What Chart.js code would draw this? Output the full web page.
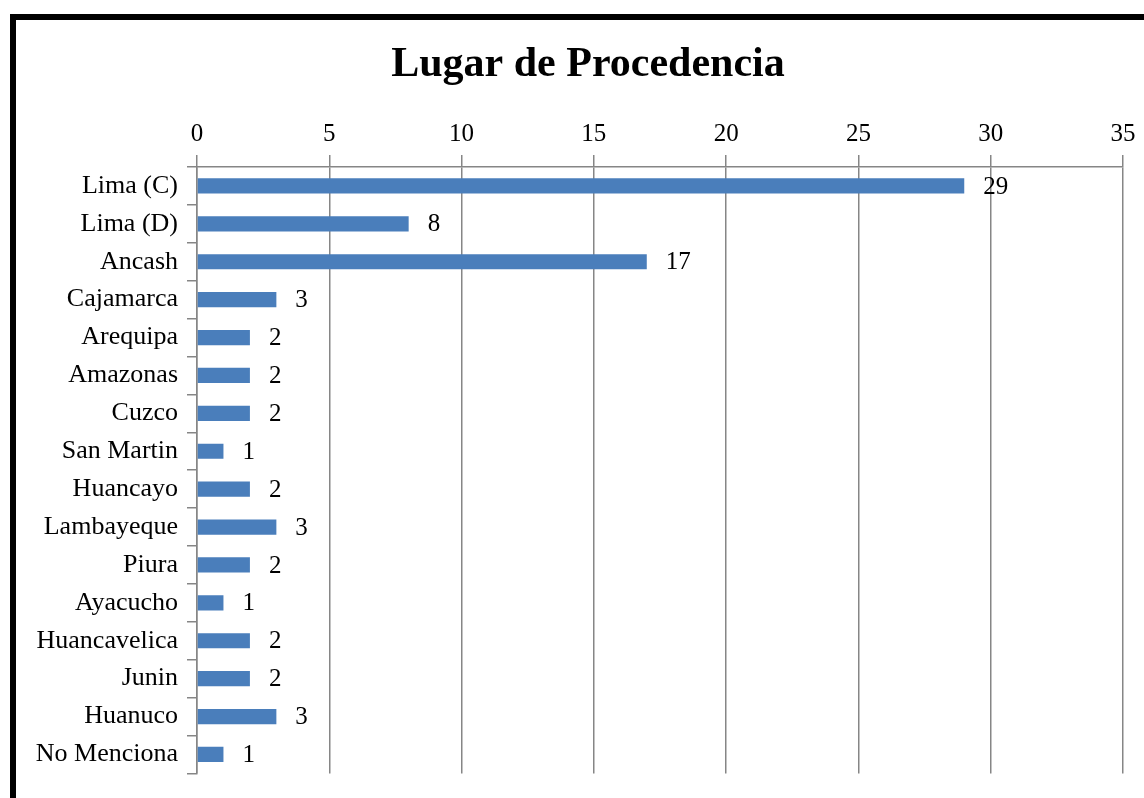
<!DOCTYPE html>
<html>
<head>
<meta charset="utf-8">
<script src="https://cdn.jsdelivr.net/npm/chart.js@4"></script>
<style>
  html, body { margin: 0; padding: 0; background: #fff; overflow: hidden; }
  #frame { position: absolute; left: 10px; top: 14px; width: 1300px; height: 900px;
           border-left: 6px solid #000; border-top: 6px solid #000; }
  #myChart { position: absolute; left: 0; top: 0; }
</style>
</head>
<body>
<div id="frame"></div>
<canvas id="myChart" width="1144" height="798"></canvas>
<script>
var lugares = ['Lima (C)', 'Lima (D)', 'Ancash', 'Cajamarca', 'Arequipa', 'Amazonas', 'Cuzco',
  'San Martin', 'Huancayo', 'Lambayeque', 'Piura', 'Ayacucho', 'Huancavelica', 'Junin',
  'Huanuco', 'No Menciona'];
var cantidad = [29, 8, 17, 3, 2, 2, 2, 1, 2, 3, 2, 1, 2, 2, 3, 1];
var ejeMin = 0, ejeMax = 35, ejePaso = 5;
var titulo = 'Lugar de Procedencia';

var serif = '"Liberation Serif", "Times New Roman", serif';

// titulo: centrado algo a la derecha, como en el original
var tituloPlugin = {
  id: 'tituloPlugin',
  afterDraw: function (chart) {
    var ctx = chart.ctx;
    ctx.save();
    ctx.font = 'bold 42px ' + serif;
    ctx.fillStyle = '#000';
    ctx.textAlign = 'center';
    ctx.textBaseline = 'alphabetic';
    ctx.fillText(titulo, 588, 76);
    ctx.restore();
  }
};

// etiquetas de valor al final de cada barra
var etiquetas = {
  id: 'etiquetas',
  afterDatasetsDraw: function (chart) {
    var ctx = chart.ctx;
    var meta = chart.getDatasetMeta(0);
    ctx.save();
    ctx.font = '25px ' + serif;
    ctx.fillStyle = '#000';
    ctx.textAlign = 'left';
    ctx.textBaseline = 'middle';
    meta.data.forEach(function (bar, i) {
      ctx.fillText(cantidad[i], bar.x + 19, bar.y + 1);
    });
    ctx.restore();
  }
};

var cvas = document.getElementById('myChart').getContext('2d');
var myChart = new Chart(cvas, {
  type: 'bar',
  data: {
    labels: lugares,
    datasets: [{
      data: cantidad,
      backgroundColor: '#4A7EBB',
      borderWidth: 0,
      categoryPercentage: 1,
      barPercentage: 0.4
    }]
  },
  options: {
    indexAxis: 'y',
    responsive: false,
    animation: false,
    layout: { padding: { left: 0, right: 21, top: 117, bottom: 16 } },
    plugins: {
      legend: { display: false },
      tooltip: { enabled: false },
      title: { display: false }
    },
    scales: {
      x: {
        position: 'top',
        min: ejeMin,
        max: ejeMax,
        ticks: {
          stepSize: ejePaso,
          color: '#000',
          padding: 6,
          font: { family: serif, size: 25 }
        },
        grid: { color: '#868686', lineWidth: 1.5, tickLength: 12 },
        border: { color: '#868686', width: 1.5 },
        afterFit: function (scale) { scale.height = 50; }
      },
      y: {
        ticks: {
          color: '#000',
          padding: 9,
          font: { family: serif, size: 26 }
        },
        grid: { color: '#868686', lineWidth: 1.5, drawOnChartArea: false, tickLength: 10 },
        border: { color: '#868686', width: 1.5 },
        afterFit: function (scale) { scale.width = 197; }
      }
    }
  },
  plugins: [etiquetas, tituloPlugin]
});
</script>
</body>
</html>
